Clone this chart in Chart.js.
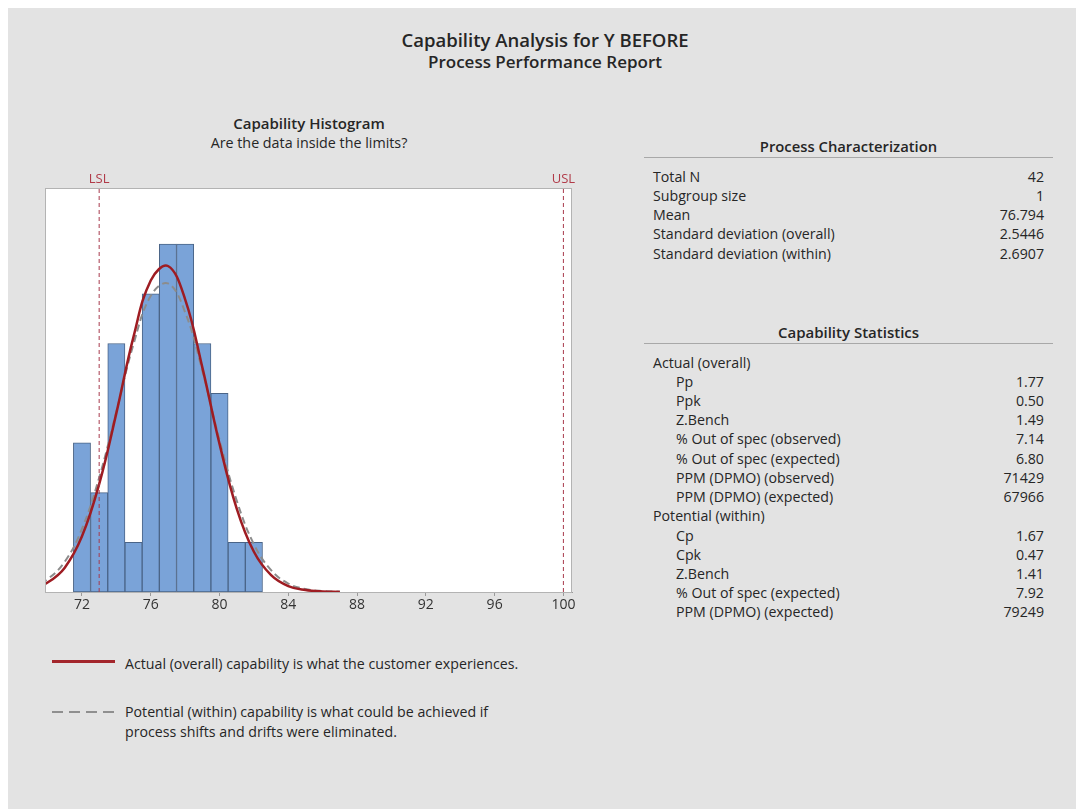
<!DOCTYPE html>
<html>
<head>
<meta charset="utf-8">
<script src="https://cdn.jsdelivr.net/npm/chart.js@4/dist/chart.umd.min.js"></script>
<style>
  body { margin: 0; background: #fff; font-family: "Open Sans", "Noto Sans", sans-serif; color: #262626; }
  #page { position: absolute; left: 8px; top: 8px; width: 1068px; height: 801px; background: #e3e3e3; }
  .t { position: absolute; white-space: nowrap; }
  .c { text-align: center; }
  .b { font-weight: 600; }
  .row { position: absolute; left: 645px; width: 399px; height: 19px; line-height: 19px; font-size: 14.2px; }
  .row .v { position: absolute; right: 0; top: 0; }
  .row .l { position: absolute; left: 8px; top: 0; }
  .row.sub .l { left: 31px; }
  .rule { position: absolute; left: 644px; width: 409px; height: 0; border-top: 1px solid #a8a8a8; }
  #chartBox { position: absolute; left: 0; top: 150px; width: 620px; height: 480px; }
  .leg { position: absolute; left: 52px; width: 63px; }
</style>
</head>
<body>
<div id="page"></div>

<div class="t c b" style="left:345px;width:400px;top:28px;font-size:18.5px;line-height:24px;">Capability Analysis for Y BEFORE</div>
<div class="t c b" style="left:345px;width:400px;top:51px;font-size:17px;line-height:22px;">Process Performance Report</div>

<div class="t c b" style="left:159px;width:300px;top:113px;font-size:15px;line-height:20px;">Capability Histogram</div>
<div class="t c" style="left:159px;width:300px;top:133px;font-size:14.3px;line-height:20px;">Are the data inside the limits?</div>

<div id="chartBox"><canvas id="histChart"></canvas></div>

<div class="leg" style="top:660px;height:2.5px;background:#a3262c;"></div>
<div class="t" style="left:125px;top:654px;font-size:14.2px;line-height:20px;">Actual (overall) capability is what the customer experiences.</div>
<div class="leg" style="top:711px;height:2px;background:repeating-linear-gradient(to right,#8f8f8f 0,#8f8f8f 11px,transparent 11px,transparent 17px);"></div>
<div class="t" style="left:125px;top:702px;font-size:14.2px;line-height:19.5px;">Potential (within) capability is what could be achieved if<br>process shifts and drifts were eliminated.</div>

<div id="tables"></div>

<script>
// histogram data (bin centres, bin width 1)
const binCenters = [72, 73, 74, 75, 76, 77, 78, 79, 80, 81, 82];
const binCounts = [3, 2, 5, 1, 6, 7, 7, 5, 4, 1, 1];

// fitted curves (count scale)
const curveX = [69, 70, 71, 72, 73, 74, 75, 76, 77, 78, 79, 80, 81, 82, 83, 84, 85, 86, 87];
const overallY = [0.06, 0.19, 0.49, 1.12, 2.17, 3.60, 5.14, 6.27, 6.56, 5.89, 4.52, 2.98, 1.68, 0.81, 0.34, 0.12, 0.04, 0.01, 0.0];
const withinY = [0.09, 0.26, 0.61, 1.27, 2.30, 3.63, 4.99, 5.96, 6.21, 5.63, 4.45, 3.06, 1.84, 0.96, 0.44, 0.17, 0.06, 0.02, 0.01];

const lsl = 73;
const usl = 100;
const xTicks = [72, 76, 80, 84, 88, 92, 96, 100];
const xMin = 69.85;
const xMax = 100.5;
const yMax = 8.13;

// tables on the right
const charLabels = ['Total N', 'Subgroup size', 'Mean', 'Standard deviation (overall)', 'Standard deviation (within)'];
const charValues = ['42', '1', '76.794', '2.5446', '2.6907'];
const statLabels = ['Actual (overall)', 'Pp', 'Ppk', 'Z.Bench', '% Out of spec (observed)', '% Out of spec (expected)',
    'PPM (DPMO) (observed)', 'PPM (DPMO) (expected)', 'Potential (within)', 'Cp', 'Cpk', 'Z.Bench',
    '% Out of spec (expected)', 'PPM (DPMO) (expected)'];
const statValues = ['', '1.77', '0.50', '1.49', '7.14', '6.80', '71429', '67966', '', '1.67', '0.47', '1.41', '7.92', '79249'];

function buildTables() {
    let html = '';
    html += `<div class="t c b" style="left:644px;width:409px;top:136px;font-size:14.8px;line-height:20px;">Process Characterization</div>`;
    html += `<div class="rule" style="top:157px;"></div>`;
    charLabels.forEach((lab, i) => {
        const y = 176 + i * 19.25 - 9.5;
        html += `<div class="row" style="top:${y}px;"><span class="l">${lab}</span><span class="v">${charValues[i]}</span></div>`;
    });
    html += `<div class="t c b" style="left:644px;width:409px;top:322px;font-size:15px;line-height:20px;">Capability Statistics</div>`;
    html += `<div class="rule" style="top:343px;"></div>`;
    statLabels.forEach((lab, i) => {
        const y = 362 + i * 19.23 - 9.5;
        const sub = statValues[i] !== '' ? ' sub' : '';
        html += `<div class="row${sub}" style="top:${y}px;"><span class="l">${lab}</span><span class="v">${statValues[i]}</span></div>`;
    });
    document.getElementById('tables').innerHTML = html;
}
buildTables();

// white plot area and frame
const plotFrame = {
    id: 'plotFrame',
    beforeDatasetsDraw(chart) {
        const { ctx, chartArea: a } = chart;
        ctx.save();
        ctx.fillStyle = '#ffffff';
        ctx.fillRect(a.left, a.top, a.right - a.left, a.bottom - a.top);
        ctx.restore();
    },
    afterDraw(chart) {
        const { ctx, chartArea: a } = chart;
        ctx.save();
        ctx.strokeStyle = '#b3b3b3';
        ctx.lineWidth = 1;
        ctx.strokeRect(a.left + 0.5, a.top + 0.5, a.right - a.left - 1, a.bottom - a.top);
        ctx.restore();
    }
};

const ctx = document.getElementById('histChart').getContext('2d');
new Chart(ctx, {
    type: 'bar',
    plugins: [plotFrame],
    data: {
        datasets: [
            {
                type: 'line',
                data: [{ x: lsl, y: 0 }, { x: lsl, y: yMax }],
                borderColor: '#a83a4c',
                borderWidth: 1,
                borderDash: [4, 3],
                pointRadius: 0,
                order: 0
            },
            {
                type: 'line',
                data: [{ x: usl, y: 0 }, { x: usl, y: yMax }],
                borderColor: '#a83a4c',
                borderWidth: 1,
                borderDash: [4, 3],
                pointRadius: 0,
                order: 0
            },
            {
                type: 'line',
                data: curveX.map((x, i) => ({ x: x, y: overallY[i] })),
                borderColor: '#9e1c22',
                borderWidth: 2.5,
                tension: 0.4,
                pointRadius: 0,
                order: 1
            },
            {
                type: 'line',
                data: curveX.map((x, i) => ({ x: x, y: withinY[i] })),
                borderColor: '#8c8c8c',
                borderWidth: 2,
                borderDash: [7, 4],
                tension: 0.4,
                pointRadius: 0,
                order: 2
            },
            {
                type: 'bar',
                data: binCenters.map((x, i) => ({ x: x, y: binCounts[i] })),
                backgroundColor: '#7aa3d8',
                borderColor: '#4a6487',
                borderWidth: 1,
                borderSkipped: false,
                barPercentage: 1,
                categoryPercentage: 1,
                order: 3
            }
        ]
    },
    options: {
        responsive: true,
        maintainAspectRatio: false,
        animation: false,
        layout: { padding: { left: 45, right: 48, top: 20, bottom: 12 } },
        plugins: {
            legend: { display: false },
            tooltip: { enabled: false }
        },
        scales: {
            x: {
                type: 'linear',
                position: 'bottom',
                offset: false,
                min: xMin,
                max: xMax,
                afterBuildTicks: scale => { scale.ticks = xTicks.map(v => ({ value: v })); },
                afterFit: scale => { scale.height = 26; },
                grid: { display: true, drawOnChartArea: false, offset: false, tickLength: 4, color: '#9a9a9a' },
                border: { display: true, color: '#9a9a9a' },
                ticks: {
                    padding: 1,
                    color: '#333333',
                    font: { family: 'Open Sans', size: 14 },
                    maxRotation: 0,
                    autoSkip: false
                }
            },
            x2: {
                type: 'linear',
                position: 'top',
                offset: false,
                min: xMin,
                max: xMax,
                afterBuildTicks: scale => { scale.ticks = [{ value: lsl }, { value: usl }]; },
                afterFit: scale => { scale.height = 18; },
                grid: { display: false, drawTicks: false },
                border: { display: false },
                ticks: {
                    padding: 1,
                    color: '#b13a48',
                    font: { family: 'Open Sans', size: 13 },
                    maxRotation: 0,
                    autoSkip: false,
                    callback: value => (value === lsl ? 'LSL' : 'USL')
                }
            },
            y: {
                display: false,
                min: 0,
                max: yMax
            }
        }
    }
});
</script>
</body>
</html>
